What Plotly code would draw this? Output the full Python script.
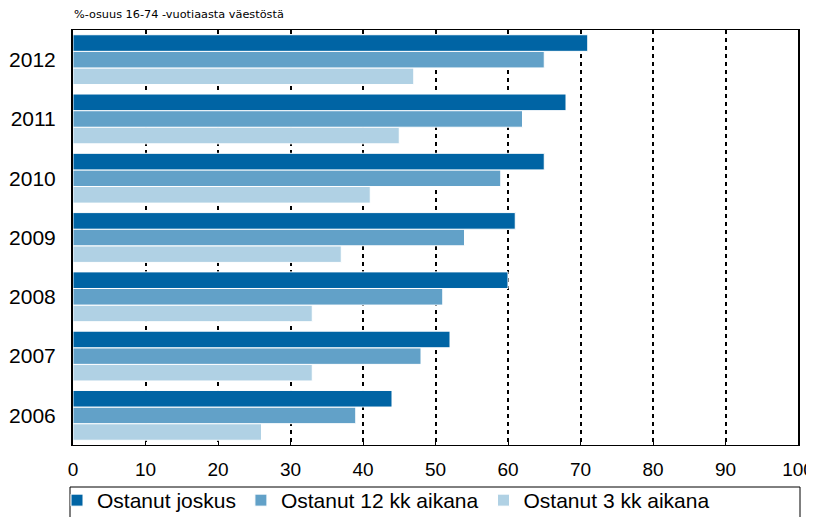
import plotly.graph_objects as go

years = ["2006", "2007", "2008", "2009", "2010", "2011", "2012"]
series_names = ["Ostanut joskus", "Ostanut 12 kk aikana", "Ostanut 3 kk aikana"]
joskus = [44, 52, 60, 61, 65, 68, 71]
kk12 = [39, 48, 51, 54, 59, 62, 65]
kk3 = [26, 33, 33, 37, 41, 45, 47]
x_ticks = [0, 10, 20, 30, 40, 50, 60, 70, 80, 90, 100]
title_text = "%-osuus 16-74 -vuotiaasta väestöstä"

colors = ["#0064a4", "#62a1c8", "#b0d1e4"]
FONT = "Liberation Sans Narrow, Liberation Sans, Arial, sans-serif"

fig = go.Figure()
# plotly puts the first trace at the bottom of each horizontal group
for name, vals, col in [(series_names[2], kk3, colors[2]),
                        (series_names[1], kk12, colors[1]),
                        (series_names[0], joskus, colors[0])]:
    fig.add_trace(go.Bar(
        y=years, x=vals, name=name, orientation="h",
        marker=dict(color=col, line=dict(color="white", width=1)),
    ))

# page body has an 8px margin; compensate so the figure lands where intended
OFF = 8
W, H = 814 - OFF, 517 - OFF
PLOT_LEFT, PLOT_RIGHT, PLOT_TOP, PLOT_BOTTOM = 73, 798, 30, 445
plot_w = PLOT_RIGHT - PLOT_LEFT
plot_h = PLOT_BOTTOM - PLOT_TOP
legend_top = -(487 - PLOT_BOTTOM) / plot_h

fig.update_layout(
    width=W, height=H,
    margin=dict(l=PLOT_LEFT - OFF, r=814 - PLOT_RIGHT, t=PLOT_TOP - OFF,
                b=517 - PLOT_BOTTOM, autoexpand=False),
    paper_bgcolor="white", plot_bgcolor="white",
    barmode="group", bargap=0.16, bargroupgap=0,
    font=dict(family=FONT, size=19, color="black"),
    showlegend=True,
    legend=dict(orientation="h", x=-16 / plot_w, xanchor="left",
                y=legend_top + 7 / plot_h, yanchor="top",
                traceorder="reversed", font=dict(family=FONT, size=21),
                bgcolor="rgba(0,0,0,0)", itemwidth=30),
    annotations=[dict(text=title_text, xref="paper", yref="paper", x=-1 / plot_w, y=1,
                      xanchor="left", yanchor="bottom", yshift=7, showarrow=False,
                      font=dict(family="DejaVu Sans, sans-serif", size=11.3, color="black"))],
    shapes=[dict(type="rect", xref="paper", yref="paper",
                 x0=-3 / plot_w, x1=(plot_w + 2) / plot_w, y0=legend_top - 0.2, y1=legend_top,
                 line=dict(color="black", width=1),
                 fillcolor="rgba(0,0,0,0)")],
)

fig.update_xaxes(
    range=[0, 100], tickvals=x_ticks, ticktext=[str(v) for v in x_ticks],
    showgrid=True, gridcolor="black", gridwidth=1.5, griddash="4px,4px",
    ticks="inside", ticklen=4, tickcolor="black", mirror="ticks",
    showline=True, linecolor="black", linewidth=1,
    zeroline=False, ticklabelstandoff=7, automargin=False,
    tickfont=dict(family=FONT, size=19),
)
fig.update_yaxes(
    categoryorder="array", categoryarray=years,
    showgrid=False, showline=True, linecolor="black", linewidth=2, mirror=True,
    ticks="", ticklabelstandoff=11, automargin=False,
    tickfont=dict(family=FONT, size=21),
)

fig.write_html("out.html")
